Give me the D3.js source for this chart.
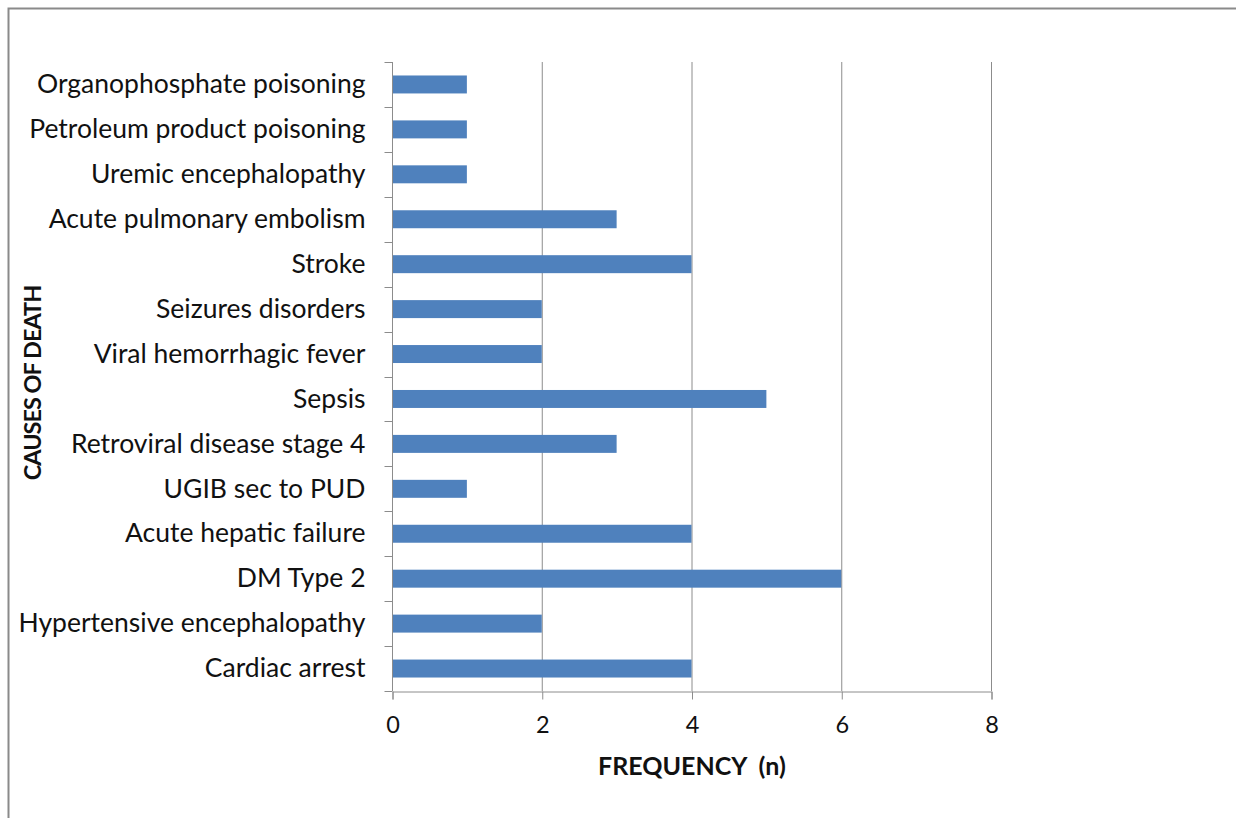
<!DOCTYPE html>
<html><head><meta charset="utf-8">
<script src="https://cdn.jsdelivr.net/npm/d3@7"></script>
<style>
html,body{margin:0;padding:0;background:#fff;overflow:hidden;}
svg text{font-family:Lato,"Open Sans",sans-serif;fill:#111;}
</style></head>
<body>
<script>
const categories = ["Organophosphate poisoning","Petroleum product poisoning","Uremic encephalopathy","Acute pulmonary embolism","Stroke","Seizures disorders","Viral hemorrhagic fever","Sepsis","Retroviral disease stage 4","UGIB sec to PUD","Acute hepatic failure","DM Type 2","Hypertensive encephalopathy","Cardiac arrest"];
const frequency = [1,1,1,3,4,2,2,5,3,1,4,6,2,4];
const xTicks = [0,2,4,6,8];
const xTitle = "FREQUENCY  (n)";
const yTitle = "CAUSES OF DEATH";

(function(){
const W = 1236, H = 818;
const pL = 392, pR = 991, pT = 62, pB = 691;
const svg = d3.select("body").append("svg").attr("width", W).attr("height", H).style("display","block");

svg.append("rect").attr("x", 8.5).attr("y", 8.5).attr("width", W).attr("height", H)
  .attr("fill", "none").attr("stroke", "#8a8a8a").attr("stroke-width", 2);

const x = d3.scaleLinear().domain([0, 8]).range([pL, pR]);
const y = d3.scaleBand().domain(categories).range([pT, pB]).paddingInner(0.6).paddingOuter(0.3);
const yb = d3.scaleBand().domain(categories).range([pT, pB]);

// gridlines
svg.append("g").selectAll("line").data(xTicks.slice(1)).join("line")
  .attr("x1", d => x(d) + 0.5).attr("x2", d => x(d) + 0.5)
  .attr("y1", pT).attr("y2", pB)
  .attr("stroke", "#8c8c8c").attr("stroke-width", 1);

// bars
svg.append("g").selectAll("rect").data(categories).join("rect")
  .attr("x", x(0)).attr("y", (d) => y(d))
  .attr("width", (d, i) => x(frequency[i]) - x(0))
  .attr("height", y.bandwidth())
  .attr("fill", "#4F81BD");

// x axis
const xAxis = svg.append("g").attr("transform", `translate(0.5,${pB + 0.5})`)
  .call(d3.axisBottom(x).tickValues(xTicks).tickSize(8).tickPadding(14));
xAxis.selectAll("text").attr("font-size", 23.5).attr("y", 41).attr("dy", 0)
  .style("font-family", "Lato, sans-serif").attr("fill", "#111");
xAxis.selectAll("path,line").attr("stroke", "#8c8c8c");

// y axis: ticks at band boundaries
const yAxisG = svg.append("g").attr("transform", `translate(${pL + 0.5},0)`);
yAxisG.append("line").attr("x1", 0).attr("x2", 0).attr("y1", pT).attr("y2", pB).attr("stroke", "#8c8c8c");
const bounds = categories.map(c => yb(c)).concat([pB]);
yAxisG.selectAll("line.t").data(bounds).join("line").attr("class", "t")
  .attr("x1", -8).attr("x2", 0).attr("y1", d => Math.round(d) + 0.5).attr("y2", d => Math.round(d) + 0.5)
  .attr("stroke", "#8c8c8c");
yAxisG.selectAll("text").data(categories).join("text")
  .attr("x", -27).attr("y", d => yb(d) + yb.bandwidth() / 2)
  .attr("dy", "0.33em").attr("text-anchor", "end").attr("font-size", 26.5)
  .text(d => d);

// titles
svg.append("text").attr("x", 692).attr("y", 775)
  .attr("text-anchor", "middle").attr("font-size", 25).attr("font-weight", "bold")
  .style("white-space", "pre").text(xTitle);
svg.append("text").attr("transform", `translate(41,383) rotate(-90)`)
  .attr("text-anchor", "middle").attr("font-size", 23.5).attr("font-weight", "bold")
  .attr("letter-spacing", -1)
  .text(yTitle);
})();
</script>
</body></html>
